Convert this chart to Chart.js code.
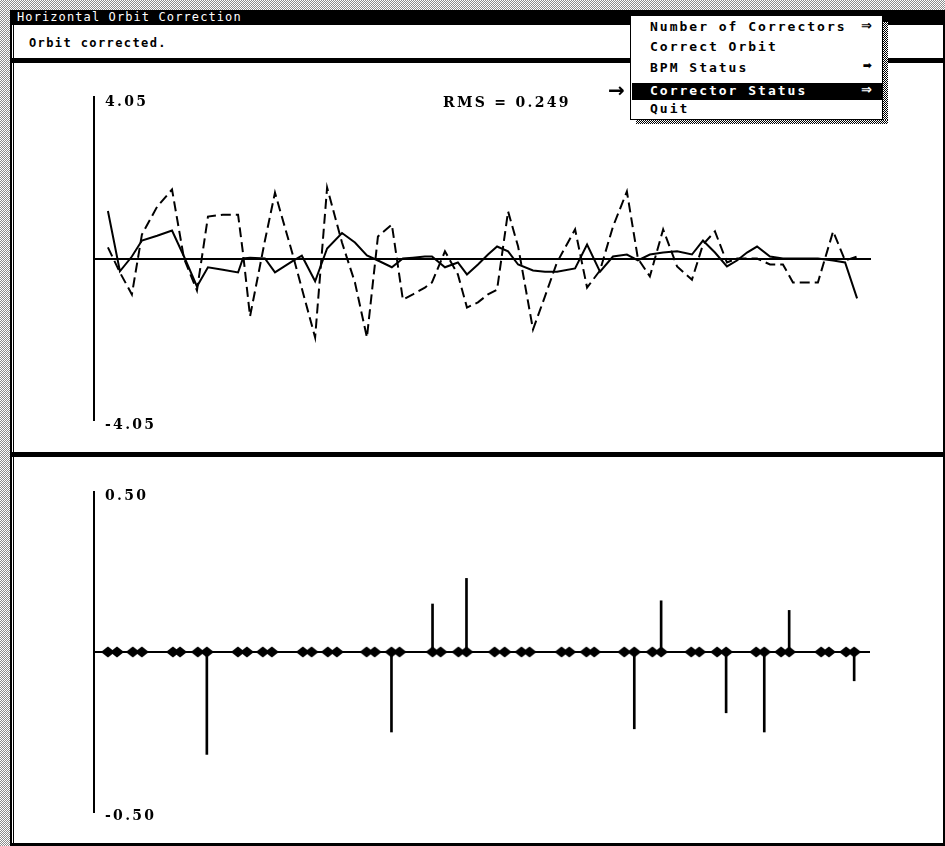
<!DOCTYPE html>
<html>
<head>
<meta charset="utf-8">
<script src="https://cdn.jsdelivr.net/npm/chart.js@4.4.0/dist/chart.umd.min.js"></script>
<style>
  html, body { margin: 0; padding: 0; }
  body {
    width: 945px; height: 846px; position: relative; overflow: hidden;
    background: repeating-conic-gradient(#8c8c8c 0 25%, #fff 0 50%) 0 0 / 2px 2px;
  }
  .abs { position: absolute; }
  .black { background: #000; }
  #win { left: 10px; top: 10px; width: 935px; height: 836px; background: #fff; }
  #titlebar { left: 10px; top: 10px; width: 935px; height: 15px; background: #000; color: #fff;
    font: 12px "DejaVu Sans Mono"; letter-spacing: 1.1px; line-height: 15px; }
  #titlebar span { position: absolute; left: 7px; top: 0; }
  #msg { left: 29px; top: 35px; font: bold 12px "DejaVu Sans Mono"; letter-spacing: 1.4px; line-height: 16px; }
  canvas { position: absolute; }
  #rms { left: 443px; top: 94px; font: bold 14px "DejaVu Serif"; letter-spacing: 2.3px; line-height: 16px; }
  #menu { left: 630px; top: 15px; width: 251px; height: 103px; background: #fff; border: 1px solid #000;
    z-index: 5; }
  #shadowR { left: 883px; top: 22px; width: 5px; height: 101px; z-index: 4;
    background: repeating-conic-gradient(#000 0 25%, #fff 0 50%) 0 0 / 2px 2px; }
  #shadowB { left: 636px; top: 120px; width: 252px; height: 4px; z-index: 4;
    background: repeating-conic-gradient(#000 0 25%, #fff 0 50%) 0 0 / 2px 2px; }
  .item { position: absolute; left: 19px; width: 222px; font: bold 13px "DejaVu Sans Mono";
    letter-spacing: 2px; height: 18px; line-height: 18px; white-space: nowrap; }
  .item .arr { position: absolute; right: 0; top: 0; letter-spacing: 0; font: bold 13px "DejaVu Sans"; }
  #hi { left: 1px; top: 67px; width: 251px; height: 17px; background: #000; }
  #pointer { left: 608px; top: 78px; font: bold 20px "DejaVu Sans"; line-height: 24px; z-index: 6; }
</style>
</head>
<body>
<div id="win" class="abs"></div>
<div class="abs black" style="left:10px;top:10px;width:2px;height:836px"></div>
<div class="abs black" style="left:13px;top:25px;width:1px;height:818px"></div>
<div class="abs black" style="left:943px;top:25px;width:2px;height:821px"></div>
<div id="titlebar" class="abs"><span>Horizontal Orbit Correction</span></div>
<div id="msg" class="abs">Orbit corrected.</div>
<div class="abs black" style="left:10px;top:58px;width:935px;height:5px"></div>
<div class="abs black" style="left:10px;top:452px;width:935px;height:5px"></div>
<div class="abs black" style="left:10px;top:843px;width:935px;height:3px"></div>

<canvas id="orbit" width="945" height="389" style="left:0;top:63px"></canvas>
<canvas id="kicks" width="945" height="385" style="left:0;top:458px"></canvas>

<div id="rms" class="abs"></div>

<div id="pointer" class="abs">→</div>
<div id="shadowR" class="abs"></div>
<div id="shadowB" class="abs"></div>
<div id="menu" class="abs">
  <div id="hi" class="abs"></div>
</div>

<script>
// ring position of each BPM (m) and the measured orbit (mm)
const ringLength = 240;
const bpmPos = [4.3, 8.0, 11.7, 14.8, 19.5, 24.1, 27.8, 31.8, 35.2, 39.8,
  44.5, 46.0, 48.2, 52.8, 55.9, 61.2, 64.2, 68.3, 72.0, 76.6,
  80.6, 84.3, 87.7, 92.0, 95.4, 98.5, 102.2, 104.4, 108.4, 112.4,
  115.2, 118.6, 121.7, 124.5, 127.9, 131.0, 135.6, 139.3, 143.0, 148.6,
  152.3, 156.3, 160.3, 164.6, 168.0, 171.7, 175.8, 180.1, 184.7, 188.1,
  191.8, 195.5, 198.6, 201.7, 204.8, 208.8, 212.8, 215.9, 219.6, 223.6,
  228.3, 232.0, 235.7];
const orbitBefore = [0.28, -0.35, -0.90, 0.60, 1.30, 1.73, 0.00, -0.80, 1.05, 1.10,
  1.10, 0.15, -1.45, 0.45, 1.65, 0.15, -0.75, -1.98, 1.78, 0.40,
  -0.60, -1.98, 0.55, 0.85, -1.03, -0.90, -0.73, -0.60, 0.18, -0.40,
  -1.23, -1.10, -0.90, -0.78, 1.18, 0.30, -1.78, -0.95, -0.10, 0.73,
  -0.73, -0.30, 0.80, 1.68, 0.00, -0.45, 0.73, -0.20, -0.53, 0.35,
  0.68, -0.10, 0.00, 0.00, 0.00, -0.15, -0.15, -0.60, -0.60, -0.60,
  0.68, -0.05, 0.05];
const orbitAfter = [1.19, -0.32, 0.05, 0.45, 0.57, 0.70, 0.05, -0.70, -0.22, -0.28,
  -0.35, 0.00, 0.02, 0.00, -0.35, -0.07, 0.07, -0.57, 0.25, 0.64,
  0.40, 0.08, -0.05, -0.22, 0.00, 0.02, 0.05, 0.05, -0.22, -0.10,
  -0.40, -0.15, 0.10, 0.30, 0.18, -0.15, -0.30, -0.33, -0.33, -0.25,
  0.35, -0.33, 0.05, 0.10, -0.05, 0.10, 0.15, 0.18, 0.10, 0.45,
  0.15, -0.20, -0.05, 0.15, 0.30, 0.05, 0.00, 0.00, 0.00, 0.00,
  -0.05, -0.10, -1.00];
const rmsValue = 0.249;
const orbitTicks = [-4.05, 0, 4.05];

// corrector positions (m) and kick strengths
const correctorPos = [4.3, 7.1, 12.0, 14.8, 24.4, 26.6, 32.1, 34.9,
  44.5, 47.3, 52.2, 55.0, 64.6, 67.3, 72.3, 75.1,
  84.3, 86.8, 92.0, 94.5, 104.7, 107.2, 112.7, 115.2,
  123.9, 127.0, 132.2, 134.7, 144.6, 147.0, 152.3, 154.7,
  164.0, 167.1, 172.7, 175.4, 184.7, 187.2, 192.7, 195.5,
  204.8, 207.3, 212.5, 215.0, 224.9, 227.3, 232.6, 235.1];
const correctorKick = [0, 0, 0, 0, 0, 0, 0, -0.32,
  0, 0, 0, 0, 0, 0, 0, 0,
  0, 0, -0.25, 0, 0.15, 0, 0, 0.23,
  0, 0, 0, 0, 0, 0, 0, 0,
  0, -0.24, 0, 0.16, 0, 0, 0, -0.19,
  0, -0.25, 0, 0.13, 0, 0, 0, -0.09];
const kickTicks = [-0.5, 0, 0.5];

const menuItems = ['Number of Correctors', 'Correct Orbit', 'BPM Status', 'Corrector Status', 'Quit'];
const menuArrows = ['⇒', '', '➡', '⇒', ''];
const menuTops = [2, 22, 43, 66, 84];

document.getElementById('rms').textContent = 'RMS = ' + rmsValue.toFixed(3);

const menu = document.getElementById('menu');
menuItems.forEach((name, i) => {
  const d = document.createElement('div');
  d.className = 'item';
  d.style.top = menuTops[i] + 'px';
  d.style.color = i === 3 ? '#fff' : '#000';
  d.textContent = name;
  if (menuArrows[i]) {
    const a = document.createElement('span');
    a.className = 'arr';
    a.textContent = menuArrows[i];
    if (menuArrows[i] === '➡') a.style.fontSize = '11px';
    d.appendChild(a);
  }
  menu.appendChild(d);
});

// spaced out lettering like the old screen font
const spacing = {
  id: 'spacing',
  beforeDraw(chart) { chart.ctx.letterSpacing = '2.3px'; }
};

const tickFont = { family: 'DejaVu Serif', size: 14, weight: 'bold' };

function yScale(lim, ticks, offset) {
  return {
    min: -lim, max: lim,
    afterBuildTicks: s => { s.ticks = ticks.map(v => ({ value: v })); },
    afterFit: s => { s.width = 0; },
    ticks: {
      mirror: true, padding: 11, labelOffset: offset, color: '#000', font: tickFont,
      callback: v => v === 0 ? '' : v.toFixed(2)
    },
    grid: {
      drawTicks: false, lineWidth: 2,
      color: c => (c.tick && c.tick.value === 0) ? '#000' : 'rgba(0,0,0,0)'
    },
    border: { display: true, color: '#000', width: 2 }
  };
}

new Chart(document.getElementById('orbit'), {
  type: 'line',
  data: {
    datasets: [{
      label: 'Uncorrected',
      data: bpmPos.map((s, i) => ({ x: s, y: orbitBefore[i] })),
      borderColor: '#000', borderWidth: 2, borderDash: [10, 5],
      pointRadius: 0, tension: 0
    }, {
      label: 'Corrected',
      data: bpmPos.map((s, i) => ({ x: s, y: orbitAfter[i] })),
      borderColor: '#000', borderWidth: 2,
      pointRadius: 0, tension: 0
    }]
  },
  options: {
    responsive: false, animation: false,
    layout: { padding: { left: 94, right: 74, top: 34, bottom: 32 } },
    plugins: { legend: { display: false }, tooltip: { enabled: false } },
    scales: {
      x: { type: 'linear', min: 0, max: ringLength, display: false },
      y: yScale(4.05, orbitTicks, 5)
    }
  },
  plugins: [spacing]
});

// elongated diamond marker for a corrector
const diamond = document.createElement('canvas');
diamond.width = 14; diamond.height = 12;
const dc = diamond.getContext('2d');
dc.fillStyle = '#000';
dc.beginPath();
dc.moveTo(0, 6); dc.lineTo(7, 0.5); dc.lineTo(14, 6); dc.lineTo(7, 11.5);
dc.closePath();
dc.fill();

new Chart(document.getElementById('kicks'), {
  type: 'bar',
  data: {
    datasets: [{
      type: 'scatter',
      label: 'Correctors',
      data: correctorPos.map(s => ({ x: s, y: 0 })),
      pointStyle: diamond, pointRadius: 7,
      backgroundColor: '#000', borderWidth: 0
    }, {
      type: 'bar',
      label: 'Kick',
      data: correctorPos.map((s, i) => ({ x: s, y: correctorKick[i] })),
      backgroundColor: '#000', borderWidth: 0, barThickness: 2
    }]
  },
  options: {
    responsive: false, animation: false,
    layout: { padding: { left: 94, right: 75, top: 34, bottom: 31 } },
    plugins: { legend: { display: false }, tooltip: { enabled: false } },
    scales: {
      x: { type: 'linear', min: 0, max: ringLength, display: false, offset: false },
      y: yScale(0.5, kickTicks, 4)
    }
  },
  plugins: [spacing]
});
</script>
</body>
</html>
